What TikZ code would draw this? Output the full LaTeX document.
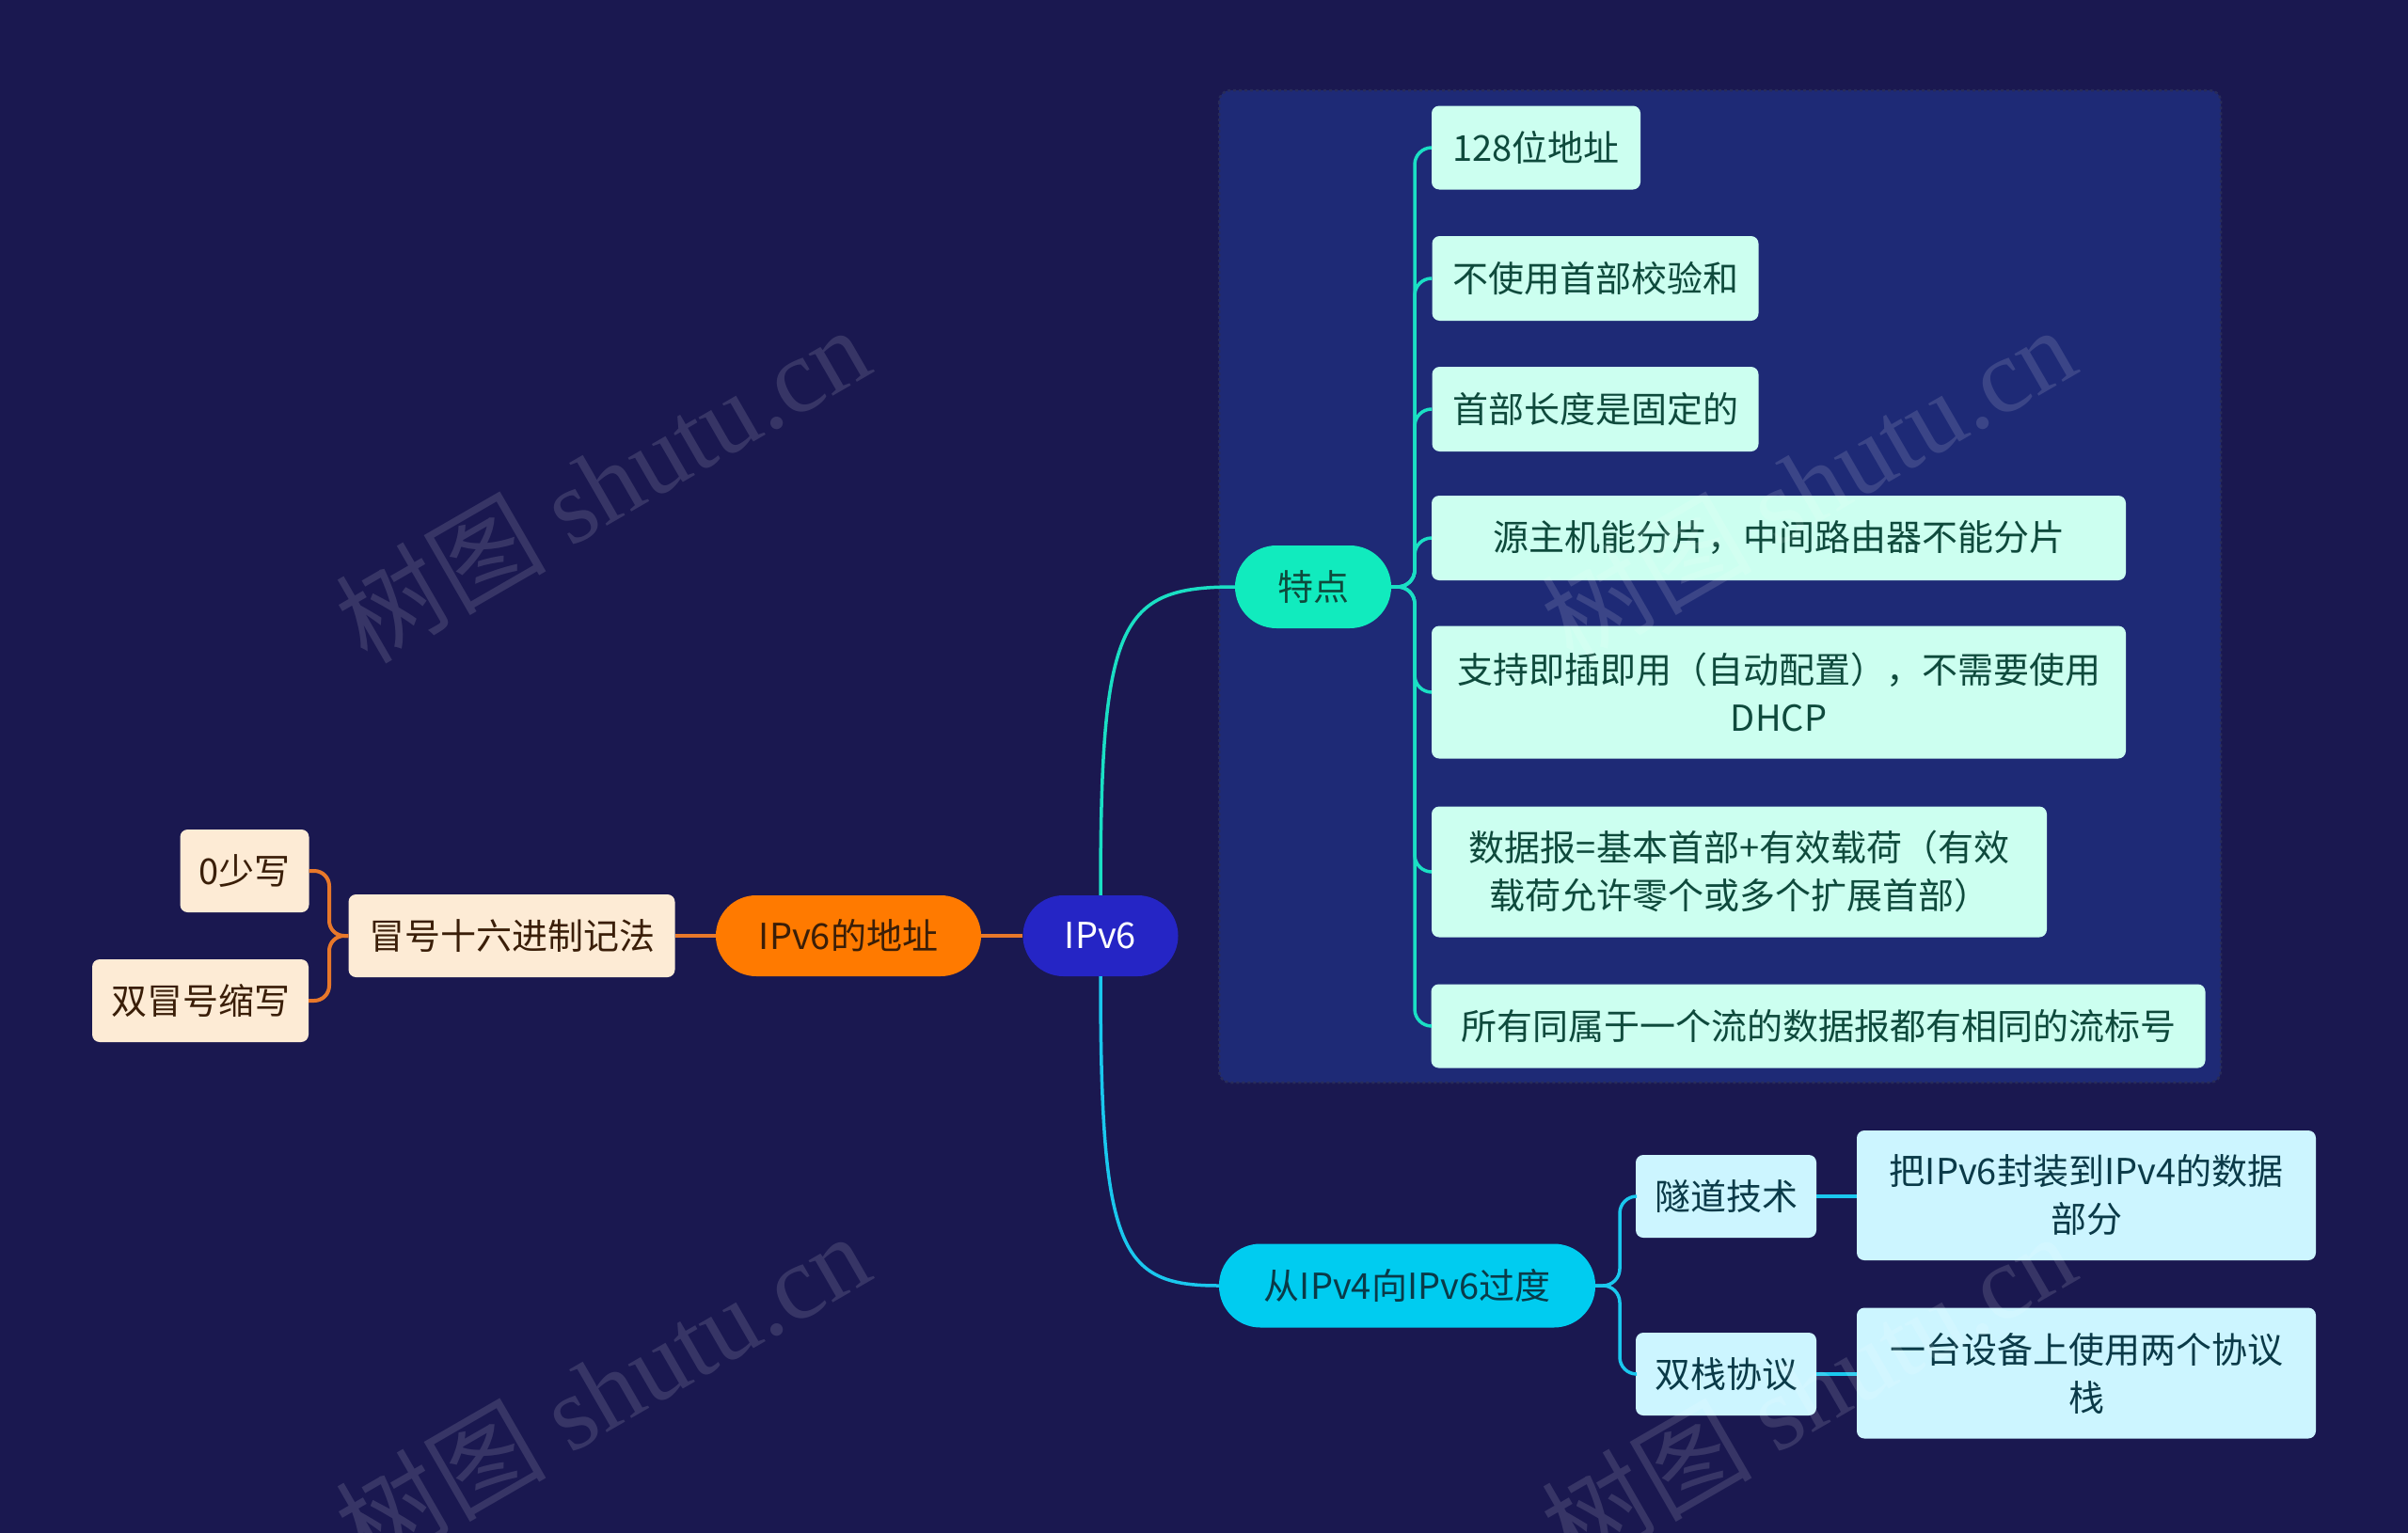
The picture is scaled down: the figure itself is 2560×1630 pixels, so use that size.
\documentclass[tikz,border=0pt]{standalone}
\usepackage{fontspec}
\setmainfont{Noto Sans CJK SC}
\newfontfamily\wmlatin{Liberation Serif}
\newfontfamily\wmcjk{Noto Sans CJK SC}
\definecolor{bgc}{RGB}{26,24,80}
\definecolor{framec}{RGB}{30,42,118}
\definecolor{framebd}{RGB}{40,44,90}
\definecolor{orangec}{RGB}{255,122,0}
\definecolor{orline}{RGB}{232,120,42}
\definecolor{bluec}{RGB}{37,37,197}
\definecolor{tealc}{RGB}{17,235,190}
\definecolor{tealline}{RGB}{26,223,196}
\definecolor{cyanc}{RGB}{0,204,240}
\definecolor{cyanline}{RGB}{26,200,238}
\definecolor{peachc}{RGB}{253,235,213}
\definecolor{peachtx}{RGB}{58,30,8}
\definecolor{mintc}{RGB}{204,255,240}
\definecolor{minttx}{RGB}{14,74,60}
\definecolor{lcyanc}{RGB}{204,245,255}
\definecolor{lcyantx}{RGB}{10,58,72}
\tikzset{
  base/.style={inner sep=0pt, align=center, font=\fontsize{38}{51}\selectfont},
  pill/.style={base, rounded corners=43pt, minimum height=86pt},
  peachbox/.style={base, fill=peachc, text=peachtx, rounded corners=8pt, minimum height=88pt},
  mintbox/.style={base, fill=mintc, text=minttx, rounded corners=8pt},
  cyanbox/.style={base, fill=lcyanc, text=lcyantx, rounded corners=8pt},
  orl/.style={draw=orline, line width=4pt, rounded corners=16pt},
  tll/.style={draw=tealline, line width=3.5pt, rounded corners=18pt},
  cyl/.style={draw=cyanline, line width=3.5pt, rounded corners=18pt},
  wm/.style={text=white, opacity=0.13, font=\fontsize{112}{120}\selectfont, rotate=30}
}
\begin{document}
\begin{tikzpicture}[x=1pt,y=-1pt]
\fill[bgc] (0,0) rectangle (2560,1630);
\useasboundingbox (0,0) rectangle (2560,1630);
% frame
\draw[fill=framec, draw=framebd, line width=2.5pt, dashed, rounded corners=12pt] (1296,96) rectangle (2361,1151);

% nodes
\node[pill, fill=bluec, text=white, minimum width=165pt] (ipv6) at (1170,995) {IPv6};
\node[pill, fill=orangec, text=peachtx, minimum width=282pt] (addr) at (902,995) {IPv6的地址};
\node[peachbox, minimum width=347pt] (mh) at (544,995) {冒号十六进制记法};
\node[peachbox, minimum width=137pt] (zero) at (260,926) {0少写};
\node[peachbox, minimum width=230pt] (dbl) at (213,1064) {双冒号缩写};

\node[pill, fill=tealc, text=minttx, minimum width=166pt, minimum height=88pt, rounded corners=44pt] (td) at (1396,624) {特点};
\node[mintbox, minimum width=222pt, minimum height=89pt] (t1) at (1633,157) {128位地址};
\node[mintbox, minimum width=347pt, minimum height=90pt] (t2) at (1696,296) {不使用首部校验和};
\node[mintbox, minimum width=347pt, minimum height=90pt] (t3) at (1696,435) {首部长度是固定的};
\node[mintbox, minimum width=738pt, minimum height=90pt] (t4) at (1891,572) {源主机能分片，中间路由器不能分片};
\node[mintbox, minimum width=738pt, minimum height=141pt] (t5) at (1891,736) {支持即插即用（自动配置），不需要使用\\DHCP};
\node[mintbox, minimum width=654pt, minimum height=139pt] (t6) at (1849,927) {数据报=基本首部+有效载荷（有效\\载荷允许零个或多个扩展首部）};
\node[mintbox, minimum width=823pt, minimum height=89pt] (t7) at (1933,1091) {所有同属于一个流的数据报都有相同的流标号};

\node[pill, fill=cyanc, text=lcyantx, minimum width=400pt, minimum height=89pt, rounded corners=44pt] (cong) at (1496,1367) {从IPv4向IPv6过度};
\node[cyanbox, minimum width=192pt, minimum height=88pt] (sd) at (1835,1272) {隧道技术};
\node[cyanbox, minimum width=192pt, minimum height=88pt] (sz) at (1835,1461) {双栈协议};
\node[cyanbox, minimum width=488pt, minimum height=138pt] (sd1) at (2218,1271) {把IPv6封装到IPv4的数据\\部分};
\node[cyanbox, minimum width=488pt, minimum height=139pt] (sz1) at (2218,1460) {一台设备上使用两个协议\\栈};

% connectors
\draw[orl] (ipv6.west) -- (addr.east);
\draw[orl] (addr.west) -- (mh.east);
\draw[orl] (mh.west) -- (350,995) |- (zero.east);
\draw[orl] (mh.west) -- (350,995) |- (dbl.east);

\draw[draw=tealline, line width=3.5pt] (ipv6.north) .. controls (1170,660) and (1190,624) .. (td.west);
\draw[draw=cyanline, line width=3.5pt] (ipv6.south) .. controls (1170,1330) and (1190,1367) .. (cong.west);

\foreach \c in {t1,t2,t3,t4,t5,t6,t7}{
  \draw[tll] (td.east) -- (1504,624) |- (\c.west);
}
\draw[cyl] (cong.east) -- (1722,1367) |- (sd.west);
\draw[cyl] (cong.east) -- (1722,1367) |- (sz.west);
\draw[cyl] (sd.east) -- (sd1.west |- sd.east);
\draw[cyl] (sz.east) -- (sz1.west |- sz.east);

% watermarks
\node[wm] (w1) at (640,514) {\wmcjk 树图 \wmlatin shutu.cn};
\node[wm] (w2) at (1922,514) {\wmcjk 树图 \wmlatin shutu.cn};
\node[wm] (w3) at (640,1478) {\wmcjk 树图 \wmlatin shutu.cn};
\node[wm] (w4) at (1922,1478) {\wmcjk 树图 \wmlatin shutu.cn};
\end{tikzpicture}
\end{document}
